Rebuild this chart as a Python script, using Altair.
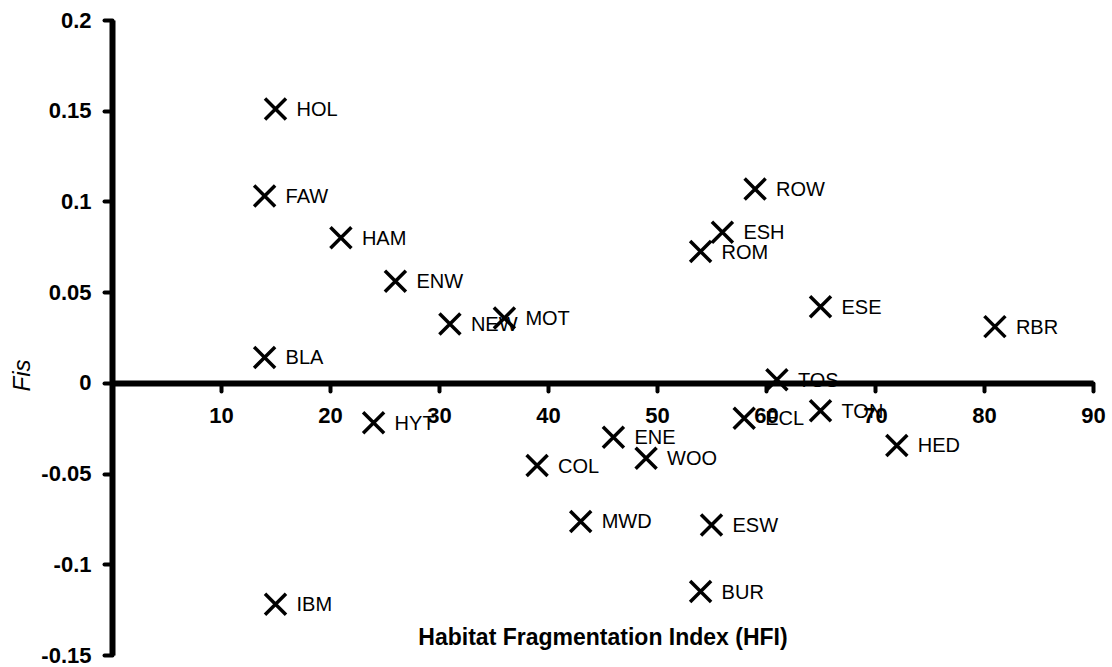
import altair as alt
import pandas as pd

# Sites: habitat fragmentation index vs. inbreeding coefficient
sites = ["HOL", "FAW", "HAM", "ENW", "NEW", "MOT", "BLA", "HYT", "IBM",
         "ENE", "WOO", "COL", "MWD", "ESW", "BUR", "ECL", "TON", "HED",
         "ESE", "RBR", "TOS", "ROW", "ESH", "ROM"]
hfi = [15, 14, 21, 26, 31, 36, 14, 24, 15,
       46, 49, 39, 43, 55, 54, 58, 65, 72,
       65, 81, 61, 59, 56, 54]
fis = [0.151, 0.103, 0.080, 0.056, 0.0325, 0.0357, 0.014, -0.022, -0.122,
       -0.030, -0.0415, -0.0456, -0.0764, -0.0783, -0.115, -0.0195, -0.0154, -0.0345,
       0.042, 0.031, 0.0017, 0.1068, 0.083, 0.0724]

x_ticks = [10, 20, 30, 40, 50, 60, 70, 80, 90]
y_ticks = [-0.15, -0.1, -0.05, 0, 0.05, 0.1, 0.15, 0.2]

df = pd.DataFrame({"site": sites, "hfi": hfi, "fis": fis})

FONT = "Liberation Sans"
X_SHAPE = "M-1,-1L1,1M-1,1L1,-1"

x_enc = alt.X(
    "hfi:Q",
    scale=alt.Scale(domain=[0, 90], nice=False, zero=False),
    axis=alt.Axis(
        values=x_ticks,
        title="Habitat Fragmentation Index (HFI)",
        offset=-272,
        grid=False,
        domainColor="black", domainWidth=6,
        tickColor="black", tickWidth=4, tickSize=8, tickCap="round",
        labelFont=FONT, labelFontSize=22, labelFontWeight="bold",
        labelColor="black", labelPadding=14, labelFlush=False,
        titleFont=FONT, titleFontSize=23, titleFontWeight="bold",
        titleColor="black", titleY=254, titleBaseline="middle",
        zindex=1,
    ),
)
y_enc = alt.Y(
    "fis:Q",
    scale=alt.Scale(domain=[-0.15, 0.2], nice=False, zero=False),
    axis=alt.Axis(
        values=y_ticks,
        labelExpr="datum.value < 0 ? '-' + format(-datum.value, '') : format(datum.value, '')",
        title="Fis",
        grid=False,
        domainColor="black", domainWidth=6,
        tickColor="black", tickWidth=4, tickSize=8, tickCap="round",
        labelFont=FONT, labelFontSize=22, labelFontWeight="bold",
        labelColor="black", labelPadding=13, labelFlush=False,
        titleFont=FONT, titleFontSize=24, titleFontStyle="italic",
        titleFontWeight="normal", titleColor="black",
        titleAngle=270, titleX=-90, titleY=355,
        titleAlign="center", titleBaseline="middle",
        zindex=1,
    ),
)

labels = alt.Chart(df).mark_text(
    align="left", baseline="middle", dx=21, dy=1,
    font=FONT, fontSize=20, color="black",
).encode(x=x_enc, y=y_enc, text="site:N")

markers = alt.Chart(df).mark_point(
    shape=X_SHAPE, size=441, filled=False, stroke="black",
    strokeWidth=3.5, opacity=1,
).encode(x=x_enc, y=y_enc)

chart = (
    alt.layer(labels, markers)
    .properties(
        width=981, height=635,
        autosize=alt.AutoSizeParams(type="none"),
        padding={"left": 112, "top": 20, "right": 19, "bottom": 12},
        background="white",
    )
    .configure_view(stroke=None)
)

chart.save("out.html", embed_options={"renderer": "svg", "actions": False})
